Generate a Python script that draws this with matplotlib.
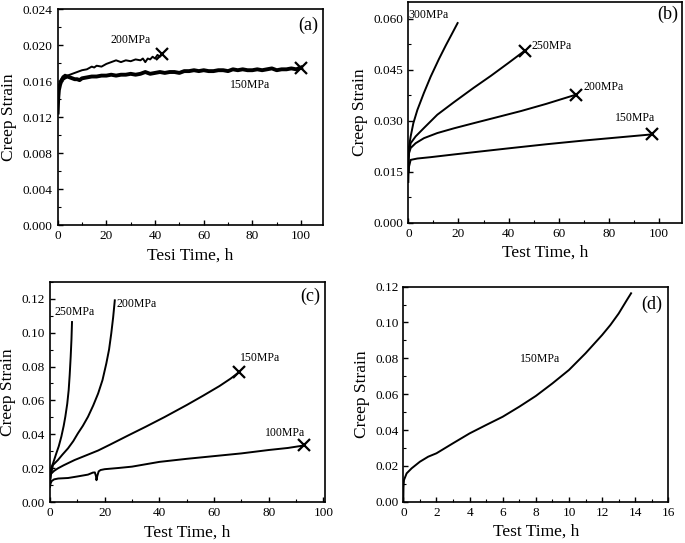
import matplotlib
matplotlib.use("Agg")
import matplotlib.pyplot as plt
from matplotlib.ticker import MultipleLocator, FormatStrFormatter

plt.rcParams['font.family'] = ['Liberation Serif', 'DejaVu Serif']

# ---------------- Panel (a) ----------------
a_t150 = [0, 0.2, 0.5, 1, 1.5, 2, 3, 4, 5, 6, 7, 8, 9, 10,
          12, 14, 16, 18, 20, 22, 24, 26, 28, 30, 32, 34, 36, 38, 40, 42, 44, 46, 48, 50,
          52, 54, 56, 58, 60, 62, 64, 66, 68, 70, 72, 74, 76, 78, 80, 82, 84, 86, 88, 90,
          92, 94, 96, 98, 100]
a_s150 = [0.0125, 0.0140, 0.0150, 0.0156, 0.0160, 0.0162, 0.0164, 0.0165, 0.0164, 0.0163, 0.0162, 0.0162, 0.0161, 0.0163,
          0.0164, 0.0165, 0.0165, 0.0166, 0.0166, 0.0167, 0.0166, 0.0167, 0.0167, 0.0168, 0.0167, 0.0168, 0.0170, 0.0168, 0.0169, 0.0170, 0.0169, 0.0170, 0.0170, 0.0169,
          0.0171, 0.0171, 0.0172, 0.0171, 0.0172, 0.0171, 0.0171, 0.0172, 0.0172, 0.0171, 0.0173, 0.0172, 0.0173, 0.0172, 0.0172, 0.0173, 0.0172, 0.0173, 0.0174, 0.0172,
          0.0173, 0.0173, 0.0174, 0.0173, 0.0175]
a_t200 = [0, 0.3, 1, 2, 3, 4, 5, 6, 8, 10, 12, 14, 15, 16, 18, 20, 22, 24, 25, 26, 28, 30,
          32, 34, 35, 36, 37, 38, 39, 40, 41, 42, 43]
a_s200 = [0.0130, 0.0150, 0.0160, 0.0165, 0.0167, 0.0166, 0.0167, 0.0168, 0.0170, 0.0172, 0.0173, 0.0176,
          0.0175, 0.0177, 0.0176, 0.0179, 0.0181, 0.0183, 0.0182, 0.0181, 0.0183, 0.0182, 0.0184, 0.0183,
          0.0185, 0.0181, 0.0185, 0.0184, 0.0187, 0.0185, 0.0189, 0.0187, 0.0190]

# ---------------- Panel (b) ----------------
b_t300 = [0, 0.05, 0.27, 0.93, 2.0, 3.6, 6.2, 8.9, 12.2, 15, 17.3, 19.65]
b_s300 = [0.015, 0.019, 0.0224, 0.0254, 0.0293, 0.0332, 0.0382, 0.0430, 0.0482, 0.0523, 0.0555, 0.0588]
b_t250 = [0, 0.1, 0.3, 0.93, 2.9, 6.24, 11.55, 18.2, 26, 33, 40, 46.5]
b_s250 = [0.015, 0.019, 0.021, 0.0234, 0.0254, 0.0279, 0.0318, 0.0355, 0.0397, 0.0433, 0.0471, 0.0507]
b_t200 = [0, 0.1, 0.3, 0.93, 2.9, 6.24, 11.55, 18.2, 26, 35, 45, 55, 66.8]
b_s200 = [0.015, 0.019, 0.0205, 0.0220, 0.0234, 0.0249, 0.0264, 0.0278, 0.0293, 0.0310, 0.0329, 0.0350, 0.0377]
b_t150 = [0, 0.05, 0.27, 0.93, 3.6, 8.9, 18.2, 26.6, 40, 55, 70, 85, 97]
b_s150 = [0.0120, 0.0140, 0.0165, 0.0185, 0.0189, 0.0193, 0.0201, 0.0208, 0.0219, 0.0231, 0.0242, 0.0252, 0.0260]

# ---------------- Panel (c) ----------------
c_t250 = [0, 0.2, 0.6, 1.1, 2.3, 3.2, 4.15, 5.0, 5.6, 6.3, 6.83, 7.2, 7.56, 7.85, 8.05]
c_s250 = [0.012, 0.018, 0.021, 0.0229, 0.0288, 0.033, 0.0387, 0.045, 0.0504, 0.058, 0.0661, 0.075, 0.0857, 0.096, 0.1062]
c_t200 = [0, 0.3, 1.1, 2.9, 4.5, 6.6, 8.5, 10.2, 12, 13.9, 15.8, 17.6, 19.2, 20.6, 21.6, 22.4, 23.1, 23.7]
c_s200 = [0.012, 0.016, 0.022, 0.0249, 0.028, 0.0318, 0.036, 0.0406, 0.045, 0.0504, 0.057, 0.0641, 0.072,
          0.0818, 0.090, 0.0994, 0.109, 0.119]
c_t150 = [0, 0.2, 0.5, 1.5, 2.9, 5, 9, 13, 17.6, 22, 28.5, 35, 42, 50, 56, 62, 66, 69.3]
c_s150 = [0.013, 0.016, 0.017, 0.0185, 0.0200, 0.0218, 0.0249, 0.0275, 0.0305, 0.0340, 0.0393, 0.0445, 0.0503,
          0.0573, 0.0628, 0.0685, 0.0728, 0.0768]
c_t100 = [0, 0.2, 0.6, 1.5, 3, 6.6, 10, 13.9, 15.7, 16.4, 16.8, 17.0, 17.3, 17.8, 18.5, 20, 25, 30, 40, 50,
          60, 70, 80, 87, 93]
c_s100 = [0.009, 0.011, 0.0125, 0.0135, 0.0140, 0.0143, 0.0152, 0.0163, 0.0175, 0.0176, 0.0155, 0.013, 0.0155,
          0.0182, 0.0190, 0.0195, 0.0202, 0.0210, 0.0238, 0.0256, 0.0272, 0.0288, 0.0308, 0.0320, 0.0335]

# ---------------- Panel (d) ----------------
d_t150 = [0, 0.01, 0.04, 0.2, 0.5, 1, 1.5, 2, 3, 4, 5, 6, 7, 8, 9, 10, 11, 12, 12.5, 13, 13.5, 13.75]
d_s150 = [0.0, 0.008, 0.0121, 0.0158, 0.0186, 0.0223, 0.0251, 0.0270, 0.0326, 0.0381, 0.0428, 0.0474, 0.0530,
          0.0590, 0.0660, 0.0735, 0.0828, 0.0930, 0.0986, 0.1050, 0.1126, 0.1163]

TICK_FS = 9.5
LABEL_FS = 12.5
ANN_FS = 8.5
TAG_FS = 13

fig = plt.figure(figsize=(6.85, 5.43), dpi=100)


def style(ax, xlabel, xmaj, xmin, ymaj, ymin, yfmt):
    for s in ax.spines.values():
        s.set_linewidth(1.2)
    ax.xaxis.set_major_locator(MultipleLocator(xmaj))
    ax.xaxis.set_minor_locator(MultipleLocator(xmin))
    ax.yaxis.set_major_locator(MultipleLocator(ymaj))
    ax.yaxis.set_minor_locator(MultipleLocator(ymin))
    ax.yaxis.set_major_formatter(FormatStrFormatter(yfmt))
    ax.tick_params(which='major', direction='in', length=3.5, width=1.0, labelsize=TICK_FS,
                   top=False, right=False)
    ax.tick_params(which='minor', direction='in', length=2, width=0.8, top=False, right=False)
    ax.set_xlabel(xlabel, fontsize=LABEL_FS, labelpad=4)
    ax.set_ylabel('Creep Strain', fontsize=LABEL_FS, labelpad=4)


# (a)
ax = fig.add_axes([0.0842, 0.5856, 0.3873, 0.3978])
ax.plot(a_t150, a_s150, color='black', lw=2.8)
ax.plot(a_t200, a_s200, color='black', lw=1.4)
ax.plot(a_t200[-1], a_s200[-1], marker='x', color='black', ms=8, mew=1.6)
ax.plot(a_t150[-1], a_s150[-1], marker='x', color='black', ms=8, mew=1.6)
ax.set_xlim(0, 109)
ax.set_ylim(0, 0.024)
style(ax, 'Tesi Time, h', 20, 10, 0.004, 0.002, '%.3f')
ax.text(29.8, 0.0206, '200MPa', fontsize=ANN_FS, ha='center', va='center')
ax.text(79, 0.01556, '150MPa', fontsize=ANN_FS, ha='center', va='center')
ax.text(103, 0.0222, '(a)', fontsize=TAG_FS, ha='center', va='center')

# (b)
ax = fig.add_axes([0.5961, 0.5899, 0.3991, 0.4064])
for t, s in [(b_t300, b_s300), (b_t250, b_s250), (b_t200, b_s200), (b_t150, b_s150)]:
    ax.plot(t, s, color='black', lw=1.4)
for t, s in [(b_t250, b_s250), (b_t200, b_s200), (b_t150, b_s150)]:
    ax.plot(t[-1], s[-1], marker='x', color='black', ms=8, mew=1.6)
ax.set_xlim(0, 109)
ax.set_ylim(0, 0.065)
style(ax, 'Test Time, h', 20, 10, 0.015, 0.0075, '%.3f')
ax.text(8, 0.0613, '300MPa', fontsize=ANN_FS, ha='center', va='center')
ax.text(57, 0.0519, '250MPa', fontsize=ANN_FS, ha='center', va='center')
ax.text(77.7, 0.0400, '200MPa', fontsize=ANN_FS, ha='center', va='center')
ax.text(90.3, 0.0308, '150MPa', fontsize=ANN_FS, ha='center', va='center')
ax.text(103.6, 0.0613, '(b)', fontsize=TAG_FS, ha='center', va='center')

# (c)
ax = fig.add_axes([0.0730, 0.0750, 0.4015, 0.4063])
for t, s in [(c_t250, c_s250), (c_t200, c_s200), (c_t150, c_s150), (c_t100, c_s100)]:
    ax.plot(t, s, color='black', lw=1.4)
for t, s in [(c_t150, c_s150), (c_t100, c_s100)]:
    ax.plot(t[-1], s[-1], marker='x', color='black', ms=8, mew=1.6)
ax.set_xlim(0, 100.6)
ax.set_ylim(0, 0.13)
style(ax, 'Test Time, h', 20, 10, 0.02, 0.01, '%.2f')
ax.text(9.1, 0.1121, '250MPa', fontsize=ANN_FS, ha='center', va='center')
ax.text(31.7, 0.1166, '200MPa', fontsize=ANN_FS, ha='center', va='center')
ax.text(76.8, 0.0853, '150MPa', fontsize=ANN_FS, ha='center', va='center')
ax.text(85.9, 0.0409, '100MPa', fontsize=ANN_FS, ha='center', va='center')
ax.text(95.1, 0.1214, '(c)', fontsize=TAG_FS, ha='center', va='center')

# (d)
ax = fig.add_axes([0.5888, 0.0761, 0.3869, 0.3960])
ax.plot(d_t150, d_s150, color='black', lw=1.4)
ax.set_xlim(0, 16)
ax.set_ylim(0, 0.12)
style(ax, 'Test Time, h', 2, 1, 0.02, 0.01, '%.2f')
ax.text(8.25, 0.0795, '150MPa', fontsize=ANN_FS, ha='center', va='center')
ax.text(15.0, 0.110, '(d)', fontsize=TAG_FS, ha='center', va='center')

fig.savefig('out.png', dpi=100)
